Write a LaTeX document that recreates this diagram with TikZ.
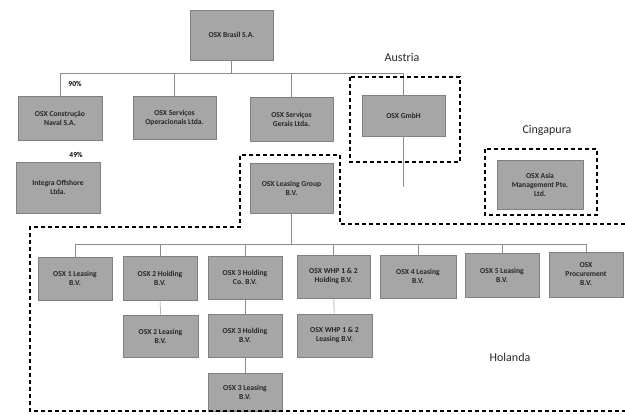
\documentclass[tikz,border=0pt]{standalone}
\usepackage{fontspec}
\setmainfont{Carlito}
\definecolor{boxgray}{RGB}{166,166,166}
\begin{document}
\begin{tikzpicture}[x=1pt,y=-1pt,
  box/.style={draw=black!50, line width=0.6pt, fill=boxgray, align=center,
    font=\fontsize{7.6}{9}\selectfont\bfseries, text=black!85, inner sep=1pt},
  region/.style={draw=black, line width=1.2pt, dash pattern=on 4pt off 3pt},
  conn/.style={draw=black!45, line width=0.5pt},
  pct/.style={font=\fontsize{7.5}{9}\selectfont\bfseries},
  country/.style={font=\fontsize{12}{14}\selectfont, text=black!85}]
\useasboundingbox (0,0) rectangle (625,415);

% boxes
\node[box, minimum width=83pt, minimum height=50pt] (brasil) at (231.5,35) {OSX Brasil S.A.};
\node[box, minimum width=84pt, minimum height=44pt] (constr) at (60,118) {OSX Construção\\Naval S.A.};
\node[box, minimum width=83pt, minimum height=43pt] (oper) at (174.5,117.5) {OSX Serviços\\Operacionais Ltda.};
\node[box, minimum width=83pt, minimum height=44pt] (gerais) at (291.5,119) {OSX Serviços\\Gerais Ltda.};
\node[box, minimum width=83pt, minimum height=41pt] (gmbh) at (403.5,115.5) {OSX GmbH};
\node[box, minimum width=86pt, minimum height=49pt] (asia) at (540,184.5) {OSX Asia\\Management Pte.\\Ltd.};
\node[box, minimum width=84pt, minimum height=51pt] (integra) at (58,187.5) {Integra Offshore\\Ltda.};
\node[box, minimum width=83pt, minimum height=50pt] (lgroup) at (291.5,188) {OSX Leasing Group\\B.V.};

\node[box, minimum width=74pt, minimum height=43pt] (l1) at (75,278.5) {OSX 1 Leasing\\B.V.};
\node[box, minimum width=74pt, minimum height=44pt] (h2) at (160,278) {OSX 2 Holding\\B.V.};
\node[box, minimum width=74pt, minimum height=43pt] (h3co) at (245,277.5) {OSX 3 Holding\\Co. B.V.};
\node[box, minimum width=73pt, minimum height=43pt] (whph) at (333.5,276.5) {OSX WHP 1 \& 2\\Holding B.V.};
\node[box, minimum width=76pt, minimum height=43pt] (l4) at (418,276.5) {OSX 4 Leasing\\B.V.};
\node[box, minimum width=74pt, minimum height=44pt] (l5) at (502,275) {OSX 5 Leasing\\B.V.};
\node[box, minimum width=74pt, minimum height=45pt] (proc) at (586,274.5) {OSX\\Procurement\\B.V.};

\node[box, minimum width=75pt, minimum height=42pt] (l2) at (160.5,336) {OSX 2 Leasing\\B.V.};
\node[box, minimum width=74pt, minimum height=43pt] (h3) at (245,335.5) {OSX 3 Holding\\B.V.};
\node[box, minimum width=75pt, minimum height=43pt] (whpl) at (334.5,335.5) {OSX WHP 1 \& 2\\Leasing B.V.};
\node[box, minimum width=74pt, minimum height=38pt] (l3) at (245,392) {OSX 3 Leasing\\B.V.};

% labels
\node[pct] (p90) at (75,84) {90\%};
\node[pct] (p49) at (76,155) {49\%};
\node[country] (austria) at (402,57) {Austria};
\node[country] (cing) at (547,130) {Cingapura};
\node[country] (hol) at (510,357) {Holanda};

% connectors
\coordinate (t) at (231.5,73);
\draw[conn] (brasil.south) -- (t);
\draw[conn] (constr.north) |- (t);
\draw[conn] (gmbh.north) |- (t);
\draw[conn] (oper.north) -- (oper.north |- t);
\draw[conn] (gerais.north) -- (gerais.north |- t);
\coordinate (g) at (403.5,187);
\draw[conn] (gmbh.south) -- (g);

\coordinate (b) at (291.5,244);
\draw[conn] (lgroup.south) -- (b);
\draw[conn] (l1.north) |- (b);
\draw[conn] (proc.north) |- (b);
\foreach \n in {h2,h3co,whph,l4,l5} \draw[conn] (\n.north) -- (\n.north |- b);
\draw[conn] (h2) -- (l2);
\draw[conn] (h3co) -- (h3);
\draw[conn] (h3) -- (l3);
\draw[conn] (whph) -- (whpl);

% regions
\draw[region] (350,77) rectangle (460,162);
\draw[region] (485,149) rectangle (597,215);
\draw[region] (625,224) -- (340,224) -- (340,155) -- (240,155) -- (240,227) -- (30,227) -- (30,411) -- (625,411);
\end{tikzpicture}
\end{document}
